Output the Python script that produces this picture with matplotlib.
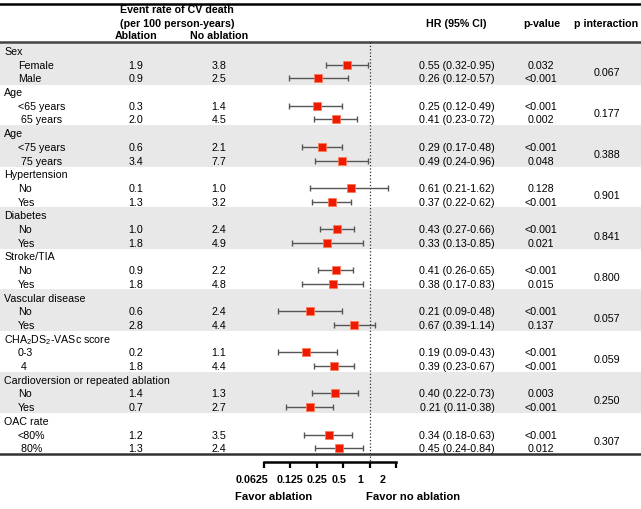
import numpy as np
import matplotlib
matplotlib.use('Agg')
import matplotlib.pyplot as plt
from matplotlib.transforms import ScaledTranslation

plt.rcParams['font.family'] = ['Liberation Sans', 'DejaVu Sans']
plt.rcParams['mathtext.fontset'] = 'custom'
plt.rcParams['mathtext.rm'] = 'Liberation Sans'
plt.rcParams['mathtext.it'] = 'Liberation Sans'

# data
groups = ['Sex', 'Age', 'Age', 'Hypertension', 'Diabetes', 'Stroke/TIA',
          'Vascular disease', r'CHA$_2$DS$_2$-VASc score',
          'Cardioversion or repeated ablation', 'OAC rate']
subgroups = [['Female', 'Male'], ['<65 years', ' 65 years'], ['<75 years', ' 75 years'],
             ['No', 'Yes'], ['No', 'Yes'], ['No', 'Yes'], ['No', 'Yes'],
             ['0-3', ' 4'], ['No', 'Yes'], ['<80%', ' 80%']]
rate_abl = [1.9, 0.9, 0.3, 2.0, 0.6, 3.4, 0.1, 1.3, 1.0, 1.8,
            0.9, 1.8, 0.6, 2.8, 0.2, 1.8, 1.4, 0.7, 1.2, 1.3]
rate_noabl = [3.8, 2.5, 1.4, 4.5, 2.1, 7.7, 1.0, 3.2, 2.4, 4.9,
              2.2, 4.8, 2.4, 4.4, 1.1, 4.4, 1.3, 2.7, 3.5, 2.4]
hr = [0.55, 0.26, 0.25, 0.41, 0.29, 0.49, 0.61, 0.37, 0.43, 0.33,
      0.41, 0.38, 0.21, 0.67, 0.19, 0.39, 0.40, 0.21, 0.34, 0.45]
ci_lo = [0.32, 0.12, 0.12, 0.23, 0.17, 0.24, 0.21, 0.22, 0.27, 0.13,
         0.26, 0.17, 0.09, 0.39, 0.09, 0.23, 0.22, 0.11, 0.18, 0.24]
ci_hi = [0.95, 0.57, 0.49, 0.72, 0.48, 0.96, 1.62, 0.62, 0.66, 0.85,
         0.65, 0.83, 0.48, 1.14, 0.43, 0.67, 0.73, 0.38, 0.63, 0.84]
pvals = ['0.032', '<0.001', '<0.001', '0.002', '<0.001', '0.048', '0.128', '<0.001',
         '<0.001', '0.021', '<0.001', '0.015', '<0.001', '0.137', '<0.001', '<0.001',
         '0.003', '<0.001', '<0.001', '0.012']
p_inter = ['0.067', '0.177', '0.388', '0.901', '0.841', '0.800', '0.057', '0.059', '0.250', '0.307']
xticks = [0.0625, 0.125, 0.25, 0.5, 1, 2]
xticklabels = ['0.0625', '0.125', '0.25', '0.5', '1', '2']

W, H = 641, 510
fs = 7.7
fig = plt.figure(figsize=(W / 100, H / 100), dpi=100)

# background / table axes (x in pixels, y in rows)
ax_bg = fig.add_axes([0, 47 / H, 1, 459 / H])
ax_bg.set_xlim(0, W)
ax_bg.set_ylim(30, -3.5)
ax_bg.axis('off')

hr = np.array(hr)
lo = np.array(ci_lo)
hi = np.array(ci_hi)
sub_y = []
for g, name in enumerate(groups):
    y0 = g * 3
    if g % 2 == 0:
        ax_bg.axhspan(y0 - 0.6, y0 + 2.45, color='#e8e8e8', lw=0, zorder=0)
    ax_bg.text(4, y0, name, fontsize=fs, va='center', ha='left')
    for k in range(2):
        i = g * 2 + k
        y = y0 + 1 + k
        sub_y.append(y)
        ax_bg.text(18, y, subgroups[g][k], fontsize=fs, va='center', ha='left')
        ax_bg.text(136, y, f'{rate_abl[i]:.1f}', fontsize=fs, va='center', ha='center')
        ax_bg.text(219, y, f'{rate_noabl[i]:.1f}', fontsize=fs, va='center', ha='center')
        ax_bg.text(457, y, f'{hr[i]:.2f} ({lo[i]:.2f}-{hi[i]:.2f})', fontsize=fs, va='center', ha='center')
        ax_bg.text(541, y, pvals[i], fontsize=fs, va='center', ha='center')
    ax_bg.text(607, y0 + 1.5, p_inter[g], fontsize=fs, va='center', ha='center')

# header
ax_bg.text(177, -3.06, 'Event rate of CV death', fontsize=fs, fontweight='bold', ha='center', va='center')
ax_bg.text(177, -2.04, '(per 100 person-years)', fontsize=fs, fontweight='bold', ha='center', va='center')
ax_bg.text(136, -1.17, 'Ablation', fontsize=fs, fontweight='bold', ha='center', va='center')
ax_bg.text(219, -1.17, 'No ablation', fontsize=fs, fontweight='bold', ha='center', va='center')
ax_bg.text(456, -2.04, 'HR (95% CI)', fontsize=fs, fontweight='bold', ha='center', va='center')
ax_bg.text(542, -2.04, 'p-value', fontsize=fs, fontweight='bold', ha='center', va='center')
ax_bg.text(606, -2.04, 'p interaction', fontsize=fs, fontweight='bold', ha='center', va='center')
ax_bg.axhline(-3.45, color='black', lw=1.8)
ax_bg.axhline(-0.62, color='#444444', lw=1.8)
ax_bg.axhline(29.45, color='#333333', lw=1.8)

# forest axes
ax = fig.add_axes([264 / W, 47 / H, 132 / W, 459 / H])
ax.set_xscale('log', base=2)
ax.set_xlim(0.0625, 2)
ax.set_ylim(30, -3.5)
ax.patch.set_visible(False)
for s in ['top', 'left', 'right']:
    ax.spines[s].set_visible(False)
ax.spines['bottom'].set_linewidth(1.8)
ax.set_yticks([])
ax.set_xticks(xticks)
ax.set_xticklabels(xticklabels, fontsize=fs, fontweight='bold')
ax.minorticks_off()
ax.tick_params(axis='x', length=4, width=1.6, pad=5)
# the labels in the original sit a little left of their ticks
label_shift_px = [-12, 0, 0, -4, -9, -13]
for lab, dx in zip(ax.get_xticklabels(), label_shift_px):
    lab.set_transform(lab.get_transform() + ScaledTranslation(dx / 100, 0, fig.dpi_scale_trans))

ax.plot([1, 1], [-0.62, 30], color='#333333', lw=0.9, ls=':')
ax.errorbar(hr, sub_y, xerr=[hr - lo, hi - hr], fmt='none', ecolor='#555555',
            elinewidth=1.0, capsize=2.5, capthick=1.0, zorder=2)
ax.plot(hr, sub_y, 's', markersize=5.3, color='#ee1a00', mec='#ff7a55', mew=0.6,
        ls='none', zorder=3)

fig.text(274 / W, 1 - 497 / H, 'Favor ablation', fontsize=fs + 0.4, fontweight='bold', ha='center', va='center')
fig.text(413 / W, 1 - 497 / H, 'Favor no ablation', fontsize=fs + 0.4, fontweight='bold', ha='center', va='center')

fig.savefig('out.png', dpi=100)
